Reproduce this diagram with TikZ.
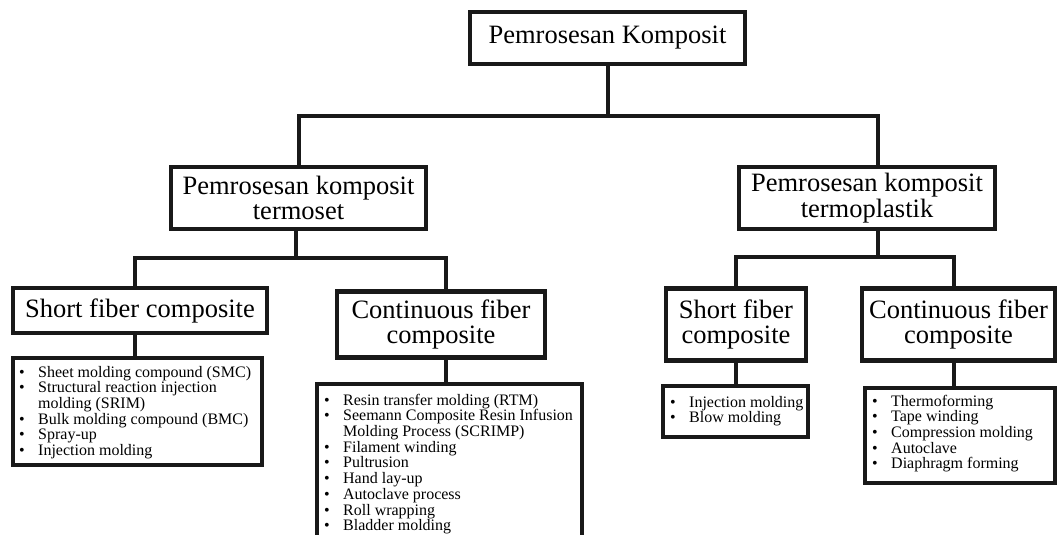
\documentclass[tikz,border=0pt]{standalone}
\usepackage{fontspec}
\setmainfont{Liberation Serif}
\newcommand\itm{\makebox[19pt][l]{\textbullet}}
\newcommand\cnt{\hspace*{19pt}}
\begin{document}
\begin{tikzpicture}[x=1pt,y=-1pt,
  box/.style={draw=black!90, line width=4.2pt, inner sep=0pt, align=center,
    font=\fontsize{26.5}{25.5}\selectfont},
  link/.style={draw=black!90, line width=4pt},
  listbox/.style={draw=black!90, line width=4.2pt, inner sep=0pt},
  listtext/.style={anchor=base west, inner sep=0pt, font=\fontsize{16}{15.3}\selectfont}]
\useasboundingbox (0,0) rectangle (1057,535);

% header boxes
\node[box, minimum width=275pt, minimum height=52pt] (root) at (607.5,38) {Pemrosesan Komposit};
\node[box, minimum width=255pt, minimum height=62pt] (ts) at (298.5,198) {Pemrosesan komposit\\termoset};
\node[box, minimum width=256pt, minimum height=62pt] (tp) at (867,198) {Pemrosesan komposit\\termoplastik};
\node[box, minimum width=254pt, minimum height=45pt] (sf1) at (140,310.5) {Short fiber composite};
\node[box, minimum width=208pt, minimum height=66pt] (cf1) at (441,324.5) {Continuous fiber\\composite};
\node[box, minimum width=140pt, minimum height=72pt] (sf2) at (736,324.5) {Short fiber\\composite};
\node[box, minimum width=193pt, minimum height=72pt] (cf2) at (958.5,324.5) {Continuous fiber\\composite};

% list boxes
\node[listbox, minimum width=249pt, minimum height=107pt] (l1) at (137.5,411.5) {};
\node[listbox, minimum width=265pt, minimum height=176pt] (l2) at (449.5,472) {};
\node[listbox, minimum width=145pt, minimum height=51pt] (l3) at (735.5,411.5) {};
\node[listbox, minimum width=190pt, minimum height=95pt] (l4) at (960,435.5) {};

% list texts
\node[listtext] (t1) at (19,377) {\begin{tabular}[t]{@{}l@{}}
\itm Sheet molding compound (SMC)\\
\itm Structural reaction injection\\
\cnt molding (SRIM)\\
\itm Bulk molding compound (BMC)\\
\itm Spray-up\\
\itm Injection molding
\end{tabular}};
\node[listtext] (t2) at (324,405) {\begin{tabular}[t]{@{}l@{}}
\itm Resin transfer molding (RTM)\\
\itm Seemann Composite Resin Infusion\\
\cnt Molding Process (SCRIMP)\\
\itm Filament winding\\
\itm Pultrusion\\
\itm Hand lay-up\\
\itm Autoclave process\\
\itm Roll wrapping\\
\itm Bladder molding
\end{tabular}};
\node[listtext] (t3) at (670,407) {\begin{tabular}[t]{@{}l@{}}
\itm Injection molding\\
\itm Blow molding
\end{tabular}};
\node[listtext] (t4) at (872,406) {\begin{tabular}[t]{@{}l@{}}
\itm Thermoforming\\
\itm Tape winding\\
\itm Compression molding\\
\itm Autoclave\\
\itm Diaphragm forming
\end{tabular}};

% connectors
\coordinate (bar1) at (0,116);
\coordinate (bar2) at (0,258);
\coordinate (bar3) at (0,257);
\draw[link] (root.south) -- (root.south |- bar1);
\draw[link] (ts.north) -- (ts.north |- bar1) -- ([xshift=11pt]tp.north |- bar1) -- ([xshift=11pt]tp.north);
\draw[link] ([xshift=-2.5pt]ts.south) -- ([xshift=-2.5pt]ts.south |- bar2);
\draw[link] ([xshift=-5pt]sf1.north) -- ([xshift=-5pt]sf1.north |- bar2) -- ([xshift=5pt]cf1.north |- bar2) -- ([xshift=5pt]cf1.north);
\draw[link] ([xshift=11pt]tp.south) -- ([xshift=11pt]tp.south |- bar3);
\draw[link] (sf2.north) -- (sf2.north |- bar3) -- ([xshift=-4.5pt]cf2.north |- bar3) -- ([xshift=-4.5pt]cf2.north);
\draw[link] ([xshift=-5pt]sf1.south) -- ([xshift=-5pt]sf1.south |- l1.north);
\draw[link] ([xshift=5pt]cf1.south) -- ([xshift=5pt]cf1.south |- l2.north);
\draw[link] (sf2.south) -- (sf2.south |- l3.north);
\draw[link] ([xshift=-4.5pt]cf2.south) -- ([xshift=-4.5pt]cf2.south |- l4.north);
\end{tikzpicture}
\end{document}
